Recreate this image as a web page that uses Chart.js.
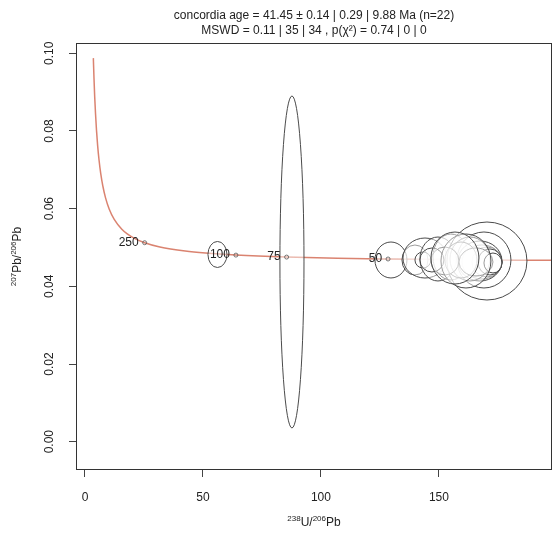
<!DOCTYPE html>
<html>
<head>
<meta charset="utf-8">
<script src="https://cdn.jsdelivr.net/npm/chart.js@4.4.0/dist/chart.umd.min.js"></script>
<style>
    html, body { margin: 0; padding: 0; background: #fff; overflow: hidden; }
</style>
</head>
<body>
<canvas id="myChart" width="552" height="537"></canvas>
<script>

// concordia curve (238U/206Pb vs 207Pb/206Pb), ages 1600 -> 30 Ma
let concordiaX = [3.55, 3.82, 4.12, 4.48, 4.89, 5.37, 5.96, 6.67, 7.57, 8.72, 10.25, 12.40, 15.62, 17.92, 20.99, 25.29, 31.74, 42.48, 51.07, 63.97, 85.45, 106.94, 128.43, 142.76, 160.66, 183.68, 214.38];
let concordiaY = [0.09875, 0.09364, 0.08884, 0.08436, 0.08016, 0.07622, 0.07253, 0.06907, 0.06583, 0.06278, 0.05993, 0.05725, 0.05472, 0.05352, 0.05236, 0.05123, 0.05013, 0.04907, 0.04855, 0.04804, 0.04753, 0.04723, 0.04704, 0.04694, 0.04684, 0.04674, 0.04664];

// age ticks on the concordia
let markerAges = ['250', '100', '75', '50'];
let markerX = [25.29, 63.97, 85.45, 128.43];
let markerY = [0.05123, 0.04804, 0.04753, 0.04704];

// error ellipses: centre and half-widths (data units)
let ellX = [56.14, 87.71, 129.66, 139.83, 144.07, 143.22, 149.58, 155.08, 170.34, 169.07, 168.22, 170.34, 167.37, 163.14, 171.61, 159.32, 152.54, 147.03, 165.68, 172.88, 161.44, 156.78];
let ellY = [0.04820, 0.04627, 0.04678, 0.04678, 0.04729, 0.04678, 0.04704, 0.04755, 0.04652, 0.04678, 0.04627, 0.04627, 0.04652, 0.04704, 0.04627, 0.04678, 0.04652, 0.04678, 0.04627, 0.04601, 0.04652, 0.04729];
let ellA = [4.03, 5.1, 6.78, 5.51, 9.32, 3.39, 7.63, 7.63, 16.95, 11.44, 8.47, 6.36, 9.32, 8.47, 5.08, 6.78, 5.93, 5.08, 7.20, 3.81, 10.59, 10.17];
let ellB = [0.00335, 0.04274, 0.00463, 0.00386, 0.00515, 0.00206, 0.00566, 0.00592, 0.01004, 0.00721, 0.00438, 0.00386, 0.00515, 0.00566, 0.00335, 0.00463, 0.00360, 0.00309, 0.00360, 0.00257, 0.00695, 0.00669];

let xTicks = [0, 50, 100, 150];
let xTickLabels = ['0', '50', '100', '150'];
let yTicks = [0, 0.02, 0.04, 0.06, 0.08, 0.10];
let yTickLabels = ['0.00', '0.02', '0.04', '0.06', '0.08', '0.10'];

let title1 = 'concordia age = 41.45 \u00b1 0.14 | 0.29 | 9.88 Ma (n=22)';
let title2 = 'MSWD = 0.11 | 35 | 34 , p(\u03c7\u00b2) = 0.74 | 0 | 0';

const FONT = '"Liberation Sans", Arial, Helvetica, sans-serif';
const INK = '#222';

function drawRich(ctx, parts, cx, cy, rot) {
    ctx.save();
    ctx.translate(cx, cy);
    if (rot) ctx.rotate(rot);
    let w = 0;
    parts.forEach(p => {
        ctx.font = (p[1] ? 8 : 12) + 'px ' + FONT;
        w += ctx.measureText(p[0]).width;
    });
    let x = -w / 2;
    ctx.textAlign = 'left';
    ctx.textBaseline = 'alphabetic';
    ctx.fillStyle = INK;
    parts.forEach(p => {
        ctx.font = (p[1] ? 8 : 12) + 'px ' + FONT;
        ctx.fillText(p[0], x, p[1] ? -1 : 4);
        x += ctx.measureText(p[0]).width;
    });
    ctx.restore();
}

const ellipsePlugin = {
    id: 'ellipses',
    afterDatasetDraw(chart, args) {
        if (args.index !== 1) return;
        const ctx = chart.ctx;
        const xs = chart.scales.x, ys = chart.scales.y;
        const area = chart.chartArea;
        ctx.save();
        ctx.beginPath();
        ctx.rect(area.left, area.top, area.right - area.left, area.bottom - area.top);
        ctx.clip();
        for (let i = 0; i < ellX.length; i++) {
            let cx = xs.getPixelForValue(ellX[i]);
            let cy = ys.getPixelForValue(ellY[i]);
            let rx = Math.abs(xs.getPixelForValue(ellX[i] + ellA[i]) - cx);
            let ry = Math.abs(ys.getPixelForValue(ellY[i] + ellB[i]) - cy);
            ctx.beginPath();
            ctx.ellipse(cx, cy, rx, ry, 0, 0, Math.PI * 2);
            ctx.fillStyle = 'rgba(255,255,255,0.45)';
            ctx.fill();
            ctx.strokeStyle = '#4a4a4a';
            ctx.lineWidth = 1;
            ctx.stroke();
        }
        ctx.restore();
    },
    afterDraw(chart) {
        const ctx = chart.ctx;
        const xs = chart.scales.x, ys = chart.scales.y;
        const area = chart.chartArea;
        const midX = (area.left + area.right) / 2;
        const midY = (area.top + area.bottom) / 2;

        ctx.save();
        // plot box
        ctx.strokeStyle = '#333';
        ctx.lineWidth = 1;
        ctx.strokeRect(area.left + 0.5, area.top + 0.5, area.right - area.left - 1, area.bottom - area.top - 1);

        // age labels on the concordia
        ctx.font = '12px ' + FONT;
        ctx.fillStyle = INK;
        ctx.textAlign = 'right';
        ctx.textBaseline = 'middle';
        for (let i = 0; i < markerAges.length; i++) {
            ctx.fillText(markerAges[i], xs.getPixelForValue(markerX[i]) - 6, ys.getPixelForValue(markerY[i]));
        }

        // titles
        ctx.textAlign = 'center';
        ctx.fillText(title1, midX, 16);
        ctx.fillText(title2, midX, 31);

        // rotated y tick labels
        for (let i = 0; i < yTicks.length; i++) {
            ctx.save();
            ctx.translate(50, ys.getPixelForValue(yTicks[i]));
            ctx.rotate(-Math.PI / 2);
            ctx.fillText(yTickLabels[i], 0, 0);
            ctx.restore();
        }
        ctx.restore();

        drawRich(ctx, [['238', true], ['U/', false], ['206', true], ['Pb', false]], midX, 522, 0);
        drawRich(ctx, [['207', true], ['Pb/', false], ['206', true], ['Pb', false]], 17, midY, -Math.PI / 2);
    }
};

const concordia = concordiaX.map((v, i) => ({ x: v, y: concordiaY[i] }));
const markers = markerX.map((v, i) => ({ x: v, y: markerY[i] }));

const config = {
    type: 'scatter',
    data: {
        datasets: [{
            label: 'age ticks',
            data: markers,
            pointRadius: 2,
            pointBorderWidth: 0.8,
            pointBorderColor: '#555',
            pointBackgroundColor: 'rgba(0,0,0,0)',
            showLine: false
        }, {
            label: 'concordia',
            data: concordia,
            showLine: true,
            borderColor: 'rgba(214,118,96,0.9)',
            borderWidth: 1.5,
            pointRadius: 0,
            cubicInterpolationMode: 'monotone'
        }]
    },
    options: {
        responsive: false,
        animation: false,
        events: [],
        layout: { autoPadding: false, padding: { top: 43, right: 0, left: 0, bottom: 0 } },
        plugins: { legend: { display: false }, tooltip: { enabled: false } },
        scales: {
            x: {
                type: 'linear',
                min: -3.8,
                max: 197.9,
                afterBuildTicks: s => { s.ticks = xTicks.map(v => ({ value: v })); },
                afterFit: s => { s.height = 67; },
                border: { display: false },
                grid: { display: true, drawOnChartArea: false, drawTicks: true, tickLength: 7, color: '#444' },
                ticks: {
                    color: INK,
                    padding: 13,
                    maxRotation: 0,
                    font: { family: FONT, size: 12 },
                    callback: v => xTickLabels[xTicks.indexOf(v)]
                }
            },
            y: {
                type: 'linear',
                min: -0.00729,
                max: 0.10265,
                afterBuildTicks: s => { s.ticks = yTicks.map(v => ({ value: v })); },
                afterFit: s => { s.width = 76; },
                border: { display: false },
                grid: { display: true, drawOnChartArea: false, drawTicks: true, tickLength: 7, color: '#444' },
                ticks: { display: false }
            }
        }
    },
    plugins: [ellipsePlugin]
};

const myChart = new Chart(document.getElementById('myChart'), config);
</script>
</body>
</html>
